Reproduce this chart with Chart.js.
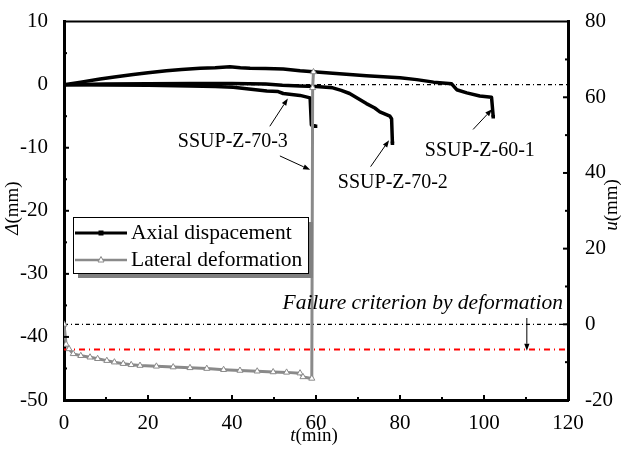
<!DOCTYPE html>
<html>
<head>
<meta charset="utf-8">
<script src="https://cdn.jsdelivr.net/npm/chart.js@4.4.1/dist/chart.umd.min.js"></script>
<style>
  body { margin: 0; background: #fff; }
  #wrap { width: 626px; height: 450px; }
</style>
</head>
<body>
<div id="wrap"><canvas id="myChart" width="626" height="450"></canvas></div>
<script>
// axial displacement, specimen SSUP-Z-60-1: t (min), delta (mm)
let time601 = [0, 4, 8.6, 12, 16.5, 20, 24.4, 28, 32.4, 36, 39.5, 42, 44.3, 48, 52.2, 56.2, 59.3, 64, 68, 72, 76, 80, 84, 88, 92.3, 93.5, 95.9, 99, 101.8, 102.2];
let disp601 = [0, 0.4, 0.9, 1.2, 1.6, 1.9, 2.2, 2.4, 2.6, 2.7, 2.85, 2.7, 2.6, 2.55, 2.5, 2.2, 2.05, 1.8, 1.6, 1.4, 1.25, 1.1, 0.8, 0.4, 0.13, -0.8, -1.3, -1.8, -2.0, -5.1];

// specimen SSUP-Z-70-2
let time702 = [0, 10, 20, 30, 40, 48, 52, 56.2, 60, 64, 66, 68, 70, 72, 74, 75.2, 77.6, 78, 78.2];
let disp702 = [0, 0.1, 0.15, 0.2, 0.2, 0.1, -0.1, -0.2, -0.3, -0.5, -0.9, -1.4, -2.2, -3.0, -3.7, -4.3, -5.0, -5.4, -9.3];

// specimen SSUP-Z-70-3
let time703 = [0, 10, 20, 30, 36, 40.3, 44, 48.3, 51, 52.2, 56.2, 58.6, 58.9, 59.9];
let disp703 = [0, -0.05, -0.1, -0.2, -0.3, -0.4, -0.7, -1.0, -1.1, -1.4, -1.7, -2.1, -6.4, -6.6];

// lateral deformation: t (min), u (mm)
let timeLat = [0, 0.5, 1.2, 2.2, 4, 6.2, 8, 10.2, 12, 14.1, 16, 18.1, 22, 26, 30, 34, 38, 41.9, 46, 49.8, 53, 56.2, 56.9, 59, 59.2, 59.4];
let lateral = [0, -5.3, -6.5, -7.8, -8.3, -8.7, -9.1, -9.6, -10.0, -10.4, -10.7, -10.9, -11.1, -11.3, -11.5, -11.7, -12.0, -12.2, -12.4, -12.6, -12.7, -12.9, -13.9, -14.3, 62.5, 66.7];

// reference levels
let zeroDisp = 0;      // delta = 0 (left axis)
let zeroLat = 0;       // u = 0 (right axis)
let failureDisp = -42; // failure criterion (left axis)

// tick labels
let xTicks = [0, 20, 40, 60, 80, 100, 120];
let yTicks = [-50, -40, -30, -20, -10, 0, 10];
let y2Ticks = [-20, 0, 20, 40, 60, 80];

const FONT = "'Liberation Serif', 'Times New Roman', serif";

const toPoints = (xs, ys) => xs.map((x, i) => ({ x: x, y: ys[i] }));
const lastOnly = (n, r) => ctx => (ctx.dataIndex === n - 1 ? r : 0);

const axialStyle = n => ({
  borderColor: '#000',
  backgroundColor: '#000',
  borderWidth: 3.5,
  pointStyle: 'rect',
  pointRadius: lastOnly(n, 2.5),
  pointBorderWidth: 0,
  yAxisID: 'y',
  order: 2
});

const datasets = [
  Object.assign({ label: 'SSUP-Z-60-1', data: toPoints(time601, disp601) }, axialStyle(time601.length)),
  Object.assign({ label: 'SSUP-Z-70-2', data: toPoints(time702, disp702) }, axialStyle(time702.length)),
  Object.assign({ label: 'SSUP-Z-70-3', data: toPoints(time703, disp703) }, axialStyle(time703.length)),
  {
    label: 'Lateral deformation',
    data: toPoints(timeLat, lateral),
    yAxisID: 'y2',
    borderColor: '#8a8a8a',
    borderWidth: 3,
    pointStyle: 'triangle',
    pointRadius: 3.5,
    pointBackgroundColor: '#fff',
    pointBorderColor: '#8a8a8a',
    pointBorderWidth: 1,
    order: 1
  },
  {
    label: 'zero',
    data: [{ x: 0, y: zeroDisp }, { x: 120, y: zeroDisp }],
    yAxisID: 'y',
    borderColor: '#000',
    borderWidth: 1.3,
    borderDash: [4, 3, 1, 3],
    pointRadius: 0,
    order: 5
  },
  {
    label: 'zero u',
    data: [{ x: 0, y: zeroLat }, { x: 120, y: zeroLat }],
    yAxisID: 'y2',
    borderColor: '#000',
    borderWidth: 1.3,
    borderDash: [4, 3, 1, 3],
    pointRadius: 0,
    order: 5
  },
  {
    label: 'failure',
    data: [{ x: 0, y: failureDisp }, { x: 120, y: failureDisp }],
    yAxisID: 'y',
    borderColor: '#ff0000',
    borderWidth: 2,
    borderDash: [6, 4, 1, 4],
    pointRadius: 0,
    order: 5
  }
];

// text labels with arrows, positions in data units (t, delta)
const notes = [
  { text: 'SSUP-Z-70-3', at: [40.2, -9.0], arrows: [[49.0, -6.6, 53.3, -2.2], [51.4, -11.3, 58.6, -13.5]] },
  { text: 'SSUP-Z-70-2', at: [78.3, -15.6], arrows: [[73.0, -13.0, 77.4, -8.8]] },
  { text: 'SSUP-Z-60-1', at: [99.0, -10.5], arrows: [[97.4, -7.1, 101.9, -3.9]] }
];

function arrow(ctx, x1, y1, x2, y2) {
  const a = Math.atan2(y2 - y1, x2 - x1);
  const len = 7, half = 2.6;
  ctx.beginPath();
  ctx.moveTo(x1, y1);
  ctx.lineTo(x2 - len * Math.cos(a), y2 - len * Math.sin(a));
  ctx.stroke();
  ctx.beginPath();
  ctx.moveTo(x2, y2);
  ctx.lineTo(x2 - len * Math.cos(a) + half * Math.sin(a), y2 - len * Math.sin(a) - half * Math.cos(a));
  ctx.lineTo(x2 - len * Math.cos(a) - half * Math.sin(a), y2 - len * Math.sin(a) + half * Math.cos(a));
  ctx.closePath();
  ctx.fill();
}

// inward ticks, top frame, titles, legend and notes
const decorations = {
  id: 'decorations',
  afterDraw(chart) {
    const ctx = chart.ctx;
    const { left, right, top, bottom } = chart.chartArea;
    const sx = chart.scales.x, sy = chart.scales.y, sy2 = chart.scales.y2;
    ctx.save();
    ctx.strokeStyle = '#000';
    ctx.fillStyle = '#000';
    const seg = (x1, y1, x2, y2) => { ctx.beginPath(); ctx.moveTo(x1, y1); ctx.lineTo(x2, y2); ctx.stroke(); };

    ctx.lineWidth = 2;
    seg(left, top, right, top);
    for (let v = 10; v < 120; v += 10) {
      const px = sx.getPixelForValue(v);
      seg(px, bottom, px, bottom - (v % 20 === 0 ? 5 : 3));
    }
    for (let v = -45; v < 10; v += 5) {
      const py = sy.getPixelForValue(v);
      seg(left, py, left + (v % 10 === 0 ? 5 : 3), py);
    }
    for (let v = -10; v < 80; v += 10) {
      const py = sy2.getPixelForValue(v);
      seg(right, py, right - (v % 20 === 0 ? 5 : 3), py);
    }

    // axis titles
    const title = (sym, rest, cx, cy, rot) => {
      ctx.save();
      ctx.translate(cx, cy);
      ctx.rotate(rot);
      ctx.textBaseline = 'middle';
      ctx.font = 'italic 19px ' + FONT;
      const w1 = ctx.measureText(sym).width;
      ctx.font = '19px ' + FONT;
      const w2 = ctx.measureText(rest).width;
      let x0 = -(w1 + w2) / 2;
      ctx.font = 'italic 19px ' + FONT;
      ctx.fillText(sym, x0, 0);
      ctx.font = '19px ' + FONT;
      ctx.fillText(rest, x0 + w1, 0);
      ctx.restore();
    };
    title('\u0394', '(mm)', 13, 208, -Math.PI / 2);
    title('u', '(mm)', 612, 205, -Math.PI / 2);
    title('t', '(min)', 314, 436, 0);

    // notes
    ctx.lineWidth = 1;
    ctx.font = '20px ' + FONT;
    ctx.textAlign = 'center';
    ctx.textBaseline = 'middle';
    notes.forEach(n => {
      ctx.fillText(n.text, sx.getPixelForValue(n.at[0]), sy.getPixelForValue(n.at[1]));
      n.arrows.forEach(a => arrow(ctx,
        sx.getPixelForValue(a[0]), sy.getPixelForValue(a[1]),
        sx.getPixelForValue(a[2]), sy.getPixelForValue(a[3])));
    });
    ctx.font = 'italic 21.5px ' + FONT;
    ctx.textAlign = 'right';
    ctx.fillText('Failure criterion by deformation', sx.getPixelForValue(118.8), sy.getPixelForValue(-34.7));
    arrow(ctx, sx.getPixelForValue(110.2), sy.getPixelForValue(-37.0), sx.getPixelForValue(110.2), sy.getPixelForValue(-42.2));

    // legend box with drop shadow
    const bx = 73, by = 217, bw = 235, bh = 56;
    ctx.fillStyle = '#808080';
    ctx.fillRect(bx + 5, by + 5, bw, bh);
    ctx.fillStyle = '#fff';
    ctx.fillRect(bx, by, bw, bh);
    ctx.strokeStyle = '#000';
    ctx.lineWidth = 1;
    ctx.strokeRect(bx + 0.5, by + 0.5, bw, bh);

    const rows = [
      { text: 'Axial dispacement', y: by + 16, color: '#000', width: 3, marker: 'rect' },
      { text: 'Lateral deformation', y: by + 43, color: '#8a8a8a', width: 2.5, marker: 'tri' }
    ];
    ctx.font = '21.5px ' + FONT;
    ctx.textAlign = 'left';
    ctx.textBaseline = 'middle';
    rows.forEach(r => {
      ctx.strokeStyle = r.color;
      ctx.lineWidth = r.width;
      seg(75, r.y, 127, r.y);
      if (r.marker === 'rect') {
        ctx.fillStyle = '#000';
        ctx.fillRect(98.5, r.y - 2.5, 5, 5);
      } else {
        ctx.fillStyle = '#fff';
        ctx.lineWidth = 1;
        ctx.beginPath();
        ctx.moveTo(101, r.y - 3.5);
        ctx.lineTo(104, r.y + 2);
        ctx.lineTo(98, r.y + 2);
        ctx.closePath();
        ctx.fill();
        ctx.stroke();
      }
      ctx.fillStyle = '#000';
      ctx.fillText(r.text, 131, r.y);
    });
    ctx.restore();
  }
};

const tickFont = { family: FONT, size: 21 };

new Chart(document.getElementById('myChart'), {
  type: 'line',
  data: { datasets: datasets },
  options: {
    responsive: false,
    animation: false,
    devicePixelRatio: 1,
    layout: { padding: { top: 17, left: 0, right: 0, bottom: 0 } },
    plugins: { legend: { display: false }, tooltip: { enabled: false } },
    elements: { line: { tension: 0, borderJoinStyle: 'round' } },
    scales: {
      x: {
        type: 'linear',
        min: 0,
        max: 120,
        afterBuildTicks: s => { s.ticks = xTicks.map(v => ({ value: v })); },
        afterFit: s => { s.height = 50; },
        grid: { display: false },
        border: { display: true, color: '#000', width: 3 },
        ticks: { font: tickFont, color: '#000', padding: 3, maxRotation: 0 }
      },
      y: {
        type: 'linear',
        position: 'left',
        min: -50,
        max: 10,
        afterBuildTicks: s => { s.ticks = yTicks.map(v => ({ value: v })); },
        afterFit: s => { s.width = 64; },
        grid: { display: false },
        border: { display: true, color: '#000', width: 3 },
        ticks: { font: tickFont, color: '#000', padding: 8 }
      },
      y2: {
        type: 'linear',
        position: 'right',
        min: -20,
        max: 80,
        afterBuildTicks: s => { s.ticks = y2Ticks.map(v => ({ value: v })); },
        afterFit: s => { s.width = 58; },
        grid: { display: false },
        border: { display: true, color: '#000', width: 3 },
        ticks: { font: tickFont, color: '#000', padding: 9 }
      }
    }
  },
  plugins: [decorations]
});
</script>
</body>
</html>
